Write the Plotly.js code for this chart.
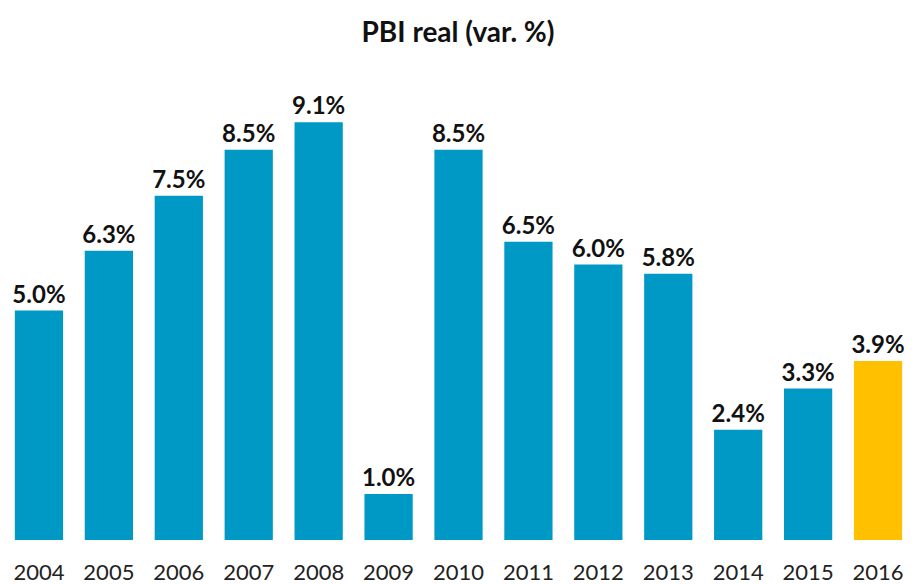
<!DOCTYPE html>
<html>
<head>
<meta charset="utf-8">
<script src="https://cdn.plot.ly/plotly-3.0.1.min.js"></script>
<style>html,body{margin:0;padding:0;background:#fff;}#chart{width:916px;height:584px;}</style>
</head>
<body>
<div id="chart"></div>
<script>
var years = ["2004","2005","2006","2007","2008","2009","2010","2011","2012","2013","2014","2015","2016"];
var growth = [5.0, 6.3, 7.5, 8.5, 9.1, 1.0, 8.5, 6.5, 6.0, 5.8, 2.4, 3.3, 3.9];
var barColors = ["#0099C6","#0099C6","#0099C6","#0099C6","#0099C6","#0099C6","#0099C6","#0099C6","#0099C6","#0099C6","#0099C6","#0099C6","#FFC000"];
var labels = growth.map(function(v){ return v.toFixed(1) + "%"; });

var trace = {
  type: "bar",
  x: years,
  y: growth,
  marker: {color: barColors},
  text: labels,
  textposition: "outside",
  constraintext: "none",
  cliponaxis: false,
  textfont: {family: "Lato, 'Open Sans', sans-serif", size: 24, color: "#111", weight: 700},
  hoverinfo: "x+y"
};

var layout = {
  width: 916, height: 584,
  margin: {l: 4, r: 3, t: 81, b: 44},
  paper_bgcolor: "#fff", plot_bgcolor: "#fff",
  bargap: 0.31,
  showlegend: false,
  title: {
    text: "<b>PBI real (var. %)</b>",
    x: 0.5, xanchor: "center",
    y: 0.945, yanchor: "middle",
    font: {family: "Lato, 'Open Sans', sans-serif", size: 28, color: "#111"}
  },
  xaxis: {
    type: "category",
    showgrid: false, zeroline: false, showline: false,
    ticks: "", ticklabelstandoff: 17,
    tickfont: {family: "Lato, 'Open Sans', sans-serif", size: 22, color: "#222"}
  },
  yaxis: {
    range: [0, 10],
    showgrid: false, zeroline: false, showline: false,
    showticklabels: false, ticks: ""
  }
};

Plotly.newPlot("chart", [trace], layout, {displayModeBar: false, staticPlot: true});
</script>
</body>
</html>
